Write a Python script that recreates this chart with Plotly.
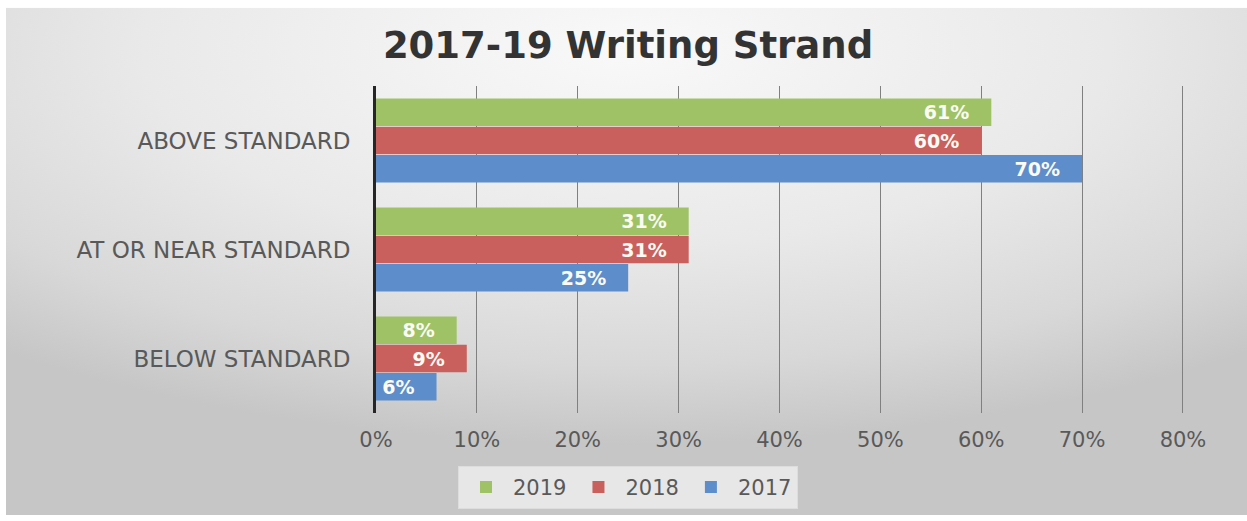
import base64
import plotly.graph_objects as go

# Writing strand results by performance band, in percent
categories = ["ABOVE STANDARD", "AT OR NEAR STANDARD", "BELOW STANDARD"]
years = ["2019", "2018", "2017"]
values_2019 = [61, 31, 8]
values_2018 = [60, 31, 9]
values_2017 = [70, 25, 6]
x_ticks = [0, 10, 20, 30, 40, 50, 60, 70, 80]
x_tick_labels = [f"{v}%" for v in x_ticks]

series = {"2019": values_2019, "2018": values_2018, "2017": values_2017}
colors = {"2019": "#9fc267", "2018": "#c9605d", "2017": "#5d8dca"}

X_MAX = 80.3  # a hair past 80 so the last gridline is drawn

W, H = 1247, 521
ML, MT, MB = 376, 86, 105
PW = round(807 * X_MAX / 80)
MR = W - ML - PW
PH = H - MT - MB

FONT = "DejaVu Sans"
GREY = "#595959"

fig = go.Figure()
for yr in years:
    vals = series[yr]
    fig.add_trace(go.Bar(
        name=yr,
        y=categories,
        x=vals,
        orientation="h",
        marker=dict(color=colors[yr], line=dict(width=0)),
        text=[f"{v}%\u2003" for v in vals],
        textposition="inside",
        insidetextanchor="end",
        constraintext="none",
        textfont=dict(family=FONT, size=19, color="#fbfbf4", weight="bold"),
        hoverinfo="x+name",
    ))

# soft radial backdrop behind the whole chart area
bw, bh = W - 6, H - 9
svg = (
    f'<svg xmlns="http://www.w3.org/2000/svg" width="{bw}" height="{bh}" '
    f'preserveAspectRatio="none"><defs>'
    f'<radialGradient id="g" cx="0.5" cy="0.08" r="0.78" fx="0.5" fy="0.08">'
    f'<stop offset="0" stop-color="#f9f9f9"/>'
    f'<stop offset="0.5" stop-color="#e9e9e9"/>'
    f'<stop offset="0.8" stop-color="#d8d8d8"/>'
    f'<stop offset="1" stop-color="#c6c6c6"/>'
    f'</radialGradient></defs>'
    f'<rect width="{bw}" height="{bh}" fill="url(#g)"/></svg>'
)
src = "data:image/svg+xml;base64," + base64.b64encode(svg.encode()).decode()


def px_to_paper_x(px):
    return (px - ML) / PW


def px_to_paper_y(py):
    return (H - MB - py) / PH


fig.add_layout_image(dict(
    source=src,
    xref="paper", yref="paper",
    x=px_to_paper_x(6), y=px_to_paper_y(7),
    sizex=bw / PW, sizey=bh / PH,
    xanchor="left", yanchor="top",
    sizing="stretch", layer="below",
))

fig.update_layout(
    width=W, height=H,
    margin=dict(l=ML, r=MR, t=MT, b=MB, pad=0),
    paper_bgcolor="white",
    plot_bgcolor="rgba(0,0,0,0)",
    barmode="group",
    bargap=0.22,
    bargroupgap=0.03,
    title=dict(
        text="2017-19 Writing Strand",
        x=628 / W, xref="container", xanchor="center",
        y=1 - 45 / H, yref="container", yanchor="middle",
        font=dict(family=FONT, size=37, color="#333333", weight="bold"),
    ),
    xaxis=dict(
        range=[0, X_MAX],
        tickmode="array",
        tickvals=x_ticks,
        ticktext=x_tick_labels,
        showgrid=True,
        gridcolor="#808080",
        gridwidth=1.3,
        zeroline=False,
        showline=False,
        ticks="",
        ticklabelstandoff=12,
        tickfont=dict(family=FONT, size=21, color=GREY),
        fixedrange=True,
    ),
    yaxis=dict(
        categoryorder="array",
        categoryarray=categories,
        autorange="reversed",
        showgrid=False,
        zeroline=False,
        showline=True,
        linecolor="#262626",
        linewidth=3,
        ticks="",
        ticklabelstandoff=18,
        tickfont=dict(family=FONT, size=23, color=GREY),
        fixedrange=True,
    ),
    legend=dict(
        orientation="h",
        x=px_to_paper_x(628), xanchor="center",
        y=px_to_paper_y(491), yanchor="middle",
        bgcolor="rgba(236,236,236,0.85)",
        bordercolor="#dddddd",
        borderwidth=1,
        font=dict(family=FONT, size=21, color=GREY),
        itemwidth=44,
        traceorder="normal",
    ),
    showlegend=True,
)

fig.write_html("out.html")
